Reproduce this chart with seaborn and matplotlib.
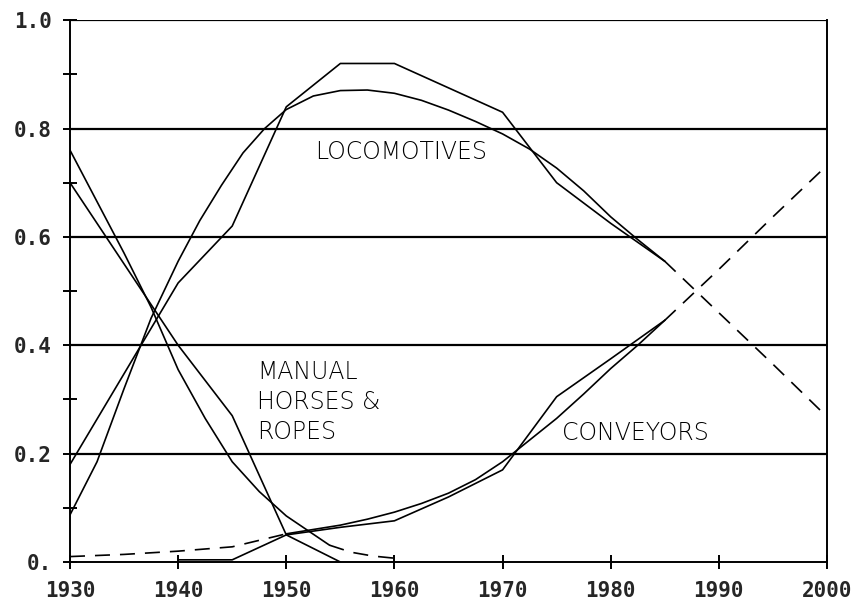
import numpy as np
import pandas as pd
import seaborn as sns
import matplotlib.pyplot as plt


# =========================
# Values
# =========================

# locomotives: observed shares
loco_years = [1930, 1940, 1945, 1950, 1955, 1960, 1970, 1975, 1980, 1985]
loco_obs = [0.18, 0.515, 0.62, 0.84, 0.92, 0.92, 0.83, 0.70, 0.625, 0.555]

# locomotives: fitted curve (solid part) and projection (dashed)
loco_fit_years = [1930, 1932.5, 1935, 1937.5, 1940, 1942, 1944, 1946,
                  1948, 1950, 1952.5, 1955, 1957.5, 1960, 1962.5, 1965,
                  1967.5, 1970, 1972.5, 1975, 1977.5, 1980, 1982.5, 1985]
loco_fit = [0.087, 0.185, 0.32, 0.45, 0.555, 0.63, 0.695, 0.755,
            0.80, 0.835, 0.86, 0.870, 0.871, 0.865, 0.852, 0.834,
            0.813, 0.79, 0.762, 0.727, 0.685, 0.637, 0.595, 0.555]
loco_proj_years = [1985, 1990, 1995, 2000]
loco_proj = [0.555, 0.46, 0.365, 0.268]

# manual, horses & ropes
manual_years = [1930, 1935, 1940, 1945, 1950, 1955]
manual_obs = [0.70, 0.55, 0.40, 0.27, 0.05, 0.0]

manual_fit_years = [1930, 1932.5, 1935, 1937.5, 1940, 1942.5, 1945,
                    1947.5, 1950, 1952, 1954]
manual_fit = [0.76, 0.665, 0.57, 0.47, 0.355, 0.265, 0.185,
              0.13, 0.085, 0.058, 0.031]
manual_proj_years = [1954, 1956, 1958, 1960]
manual_proj = [0.031, 0.018, 0.011, 0.007]

# conveyors
conv_years = [1940, 1945, 1950, 1955, 1960, 1965, 1970, 1975, 1980, 1985]
conv_obs = [0.004, 0.004, 0.05, 0.064, 0.076, 0.12, 0.17, 0.305, 0.375, 0.446]

conv_back_years = [1930, 1935, 1940, 1945, 1950]
conv_back = [0.01, 0.014, 0.02, 0.028, 0.052]

conv_fit_years = [1950, 1952.5, 1955, 1957.5, 1960, 1962.5, 1965, 1967.5,
                  1970, 1972.5, 1975, 1977.5, 1980, 1982.5, 1985]
conv_fit = [0.052, 0.06, 0.068, 0.079, 0.092, 0.108, 0.127, 0.152,
            0.185, 0.225, 0.265, 0.31, 0.357, 0.40, 0.446]
conv_proj_years = [1985, 1990, 1995, 2000]
conv_proj = [0.446, 0.54, 0.637, 0.732]

x_ticks = [1930, 1940, 1950, 1960, 1970, 1980, 1990, 2000]
y_ticks = [0.0, 0.2, 0.4, 0.6, 0.8, 1.0]
y_tick_labels = ["0.", "0.2", "0.4", "0.6", "0.8", "1.0"]
y_minor = [0.1, 0.3, 0.5, 0.7, 0.9]


# =========================
# Figure
# =========================

sns.set_style("white")
plt.rcParams['font.family'] = ['DejaVu Sans']

fig = plt.figure(figsize=(8.6, 6.1), dpi=100)
ax = fig.add_axes([0.0814, 0.0787, 0.8802, 0.8883])

solid = dict(color="black", linewidth=1.2, estimator=None, sort=False,
             ax=ax, legend=False)

# observed series
sns.lineplot(x=loco_years, y=loco_obs, **solid)
sns.lineplot(x=manual_years, y=manual_obs, **solid)
sns.lineplot(x=conv_years, y=conv_obs, **solid)

# fitted curves
sns.lineplot(x=loco_fit_years, y=loco_fit, **solid)
sns.lineplot(x=manual_fit_years, y=manual_fit, **solid)
sns.lineplot(x=conv_fit_years, y=conv_fit, **solid)

# dashed extensions
for xs, ys in [(loco_proj_years, loco_proj),
               (manual_proj_years, manual_proj),
               (conv_back_years, conv_back),
               (conv_proj_years, conv_proj)]:
    l = sns.lineplot(x=xs, y=ys, **solid)
    l.lines[-1].set_linestyle((0, (9, 6)))

# horizontal grid lines
for yv in y_ticks[1:]:
    ax.axhline(yv, color="black", linewidth=1.6, zorder=0)

ax.set_xlim(1930, 2000)
ax.set_ylim(0, 1.0)

for side in ["left", "bottom", "right"]:
    ax.spines[side].set_visible(True)
    ax.spines[side].set_color("black")
    ax.spines[side].set_linewidth(1.4)
ax.spines["top"].set_visible(False)

tick_font = dict(family="DejaVu Sans Mono", weight="bold", size=15)
ax.set_xticks(x_ticks)
ax.set_xticklabels([str(t) for t in x_ticks], fontdict=tick_font)
ax.set_yticks(y_ticks)
ax.set_yticklabels(y_tick_labels, fontdict=tick_font)
ax.set_yticks(y_minor, minor=True)
ax.tick_params(axis="both", which="both", direction="inout", length=10,
               width=1.4, color="black", bottom=True, left=True)
ax.tick_params(axis="y", which="major", pad=8)
ax.tick_params(axis="x", which="major", pad=9)

label_font = dict(family="DejaVu Sans", weight="light", size=17,
                  color="black")
ax.text(1952.7, 0.757, "LOCOMOTIVES", va="center", ha="left", **label_font)
ax.text(1947.3, 0.372, "MANUAL\nHORSES &\nROPES", va="top", ha="left",
        linespacing=1.3, **label_font)
ax.text(1975.5, 0.238, "CONVEYORS", va="center", ha="left", **label_font)

ax.set_xlabel("")
ax.set_ylabel("")

plt.savefig("out.png", dpi=100)
